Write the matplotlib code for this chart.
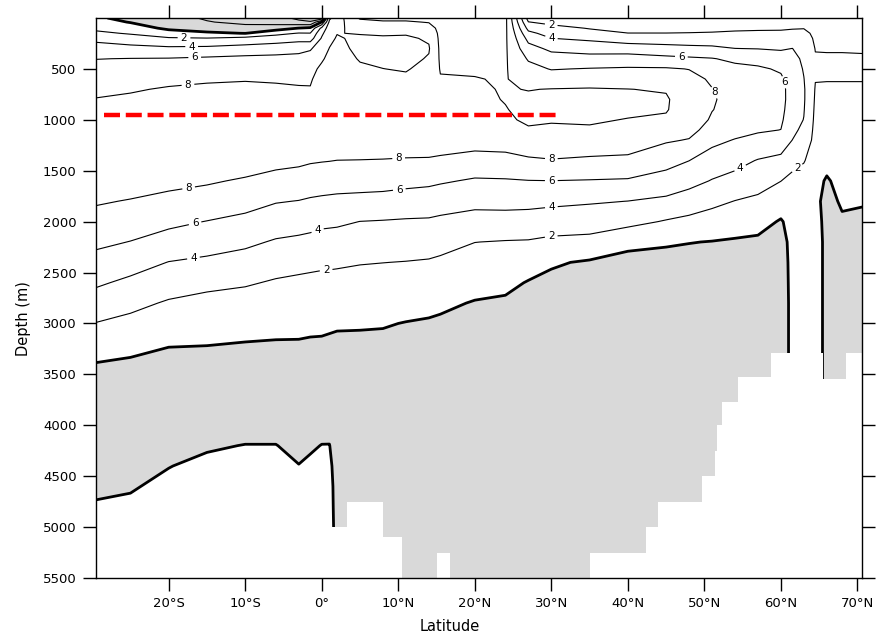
import numpy as np
import matplotlib
matplotlib.use("Agg")
import matplotlib.pyplot as plt

# depth levels (m) of the grid rows
depth = [0, 40, 100, 150, 200, 300, 400, 500, 600, 700,
         800, 900, 1000, 1100, 1200, 1400, 1600, 1800, 2000, 2200,
         2400, 2600, 2800, 3000, 3200, 3400, 3600, 3800, 4000, 4200,
         4400, 4600, 4800, 5000, 5500]

# latitude of each grid column
lat = [-30, -25, -20, -15, -10, -6, -3, -1.5, 0, 1, 2, 5, 8, 11, 14, 15.5,
       20, 24, 27, 30, 35, 40, 45, 48, 51, 54, 57, 60, 61.5, 63, 64.5, 66,
       68, 71]

psi_cols = [
    # -30
    [0.4, 0.9, 1.6, 2.5, 3.5, 4.9, 5.95, 6.6, 7.1, 7.55, 8.05, 8.4, 8.7, 8.95, 9.1,
     9.2, 8.9, 8.2, 7.4, 6.45, 5.4, 4.35, 3.2, 2.0, 1.0, -0.05, -0.7, -0.9, -1.0,
     -0.9, -0.7, -0.35, 0.15, 0.4, 0.4],
    # -25
    [-0.6, -0.1, 1.0, 1.8, 2.9, 4.6, 6.05, 6.8, 7.4, 7.85, 8.25, 8.6, 8.9, 9.1, 9.25,
     9.3, 8.8, 7.9, 7.0, 5.95, 4.8, 3.6, 2.5, 1.5, 0.6, -0.3, -0.8, -1.0, -1.0,
     -0.9, -0.6, -0.15, 0.3, 0.5, 0.4],
    # -20
    [-1.4, -1.1, -0.4, 0.9, 2.2, 4.4, 6.1, 7.0, 7.6, 8.15, 8.6, 8.9, 9.15, 9.3, 9.4,
     9.2, 8.5, 7.5, 6.4, 5.3, 3.95, 2.9, 1.8, 0.9, 0.1, -0.5, -0.9, -1.0, -1.0,
     -0.7, -0.05, 0.4, 0.6, 0.6, 0.5],
    # -15
    [-2.2, -1.9, -0.9, 0.3, 2.1, 4.5, 6.3, 7.2, 7.8, 8.3, 8.7, 9.0, 9.25, 9.4, 9.5,
     9.1, 8.2, 7.2, 5.95, 4.9, 3.6, 2.5, 1.4, 0.6, 0.05, -0.5, -0.9, -1.0, -0.8,
     -0.2, 0.4, 0.7, 0.8, 0.8, 0.6],
    # -10
    [-2.6, -2.4, -1.4, -0.05, 2.6, 4.8, 6.5, 7.4, 7.9, 8.35, 8.75, 9.05, 9.3, 9.45, 9.5,
     8.9, 7.8, 6.7, 5.5, 4.4, 3.2, 2.2, 1.2, 0.5, -0.05, -0.5, -0.9, -1.0, -0.7,
     0.05, 0.6, 0.8, 0.9, 0.9, 0.6],
    # -6
    [-3.2, -2.8, -0.9, 1.4, 3.05, 5.0, 6.6, 7.3, 7.8, 8.3, 8.7, 9.0, 9.25, 9.4, 9.4,
     8.6, 7.3, 6.1, 5.05, 3.8, 2.8, 1.8, 1.0, 0.4, -0.1, -0.5, -0.9, -1.0, -0.7,
     0.05, 0.6, 0.8, 0.9, 0.8, 0.6],
    # -3
    [-4.5, -3.5, 0.05, 2.1, 3.3, 5.4, 6.6, 7.3, 7.75, 8.15, 8.55, 8.9, 9.15, 9.3, 9.3,
     8.4, 7.1, 5.95, 4.8, 3.6, 2.6, 1.6, 0.9, 0.35, -0.1, -0.5, -0.9, -1.0, -0.9,
     -0.5, 0.05, 0.5, 0.7, 0.7, 0.5],
    # -1.5
    [-5.0, -3.8, 0.4, 2.05, 3.1, 5.8, 6.8, 7.4, 7.8, 8.1, 8.5, 8.85, 9.1, 9.25, 9.25,
     8.2, 6.9, 5.8, 4.6, 3.5, 2.5, 1.5, 0.85, 0.3, -0.15, -0.55, -0.9, -1.0, -0.8,
     -0.25, 0.35, 0.7, 0.8, 0.8, 0.5],
    # 0
    [-5.5, 0.05, 4.5, 5.6, 6.2, 7.05, 7.75, 8.4, 8.8, 9.05, 9.25, 9.4, 9.5, 9.45, 9.3,
     8.1, 6.8, 5.7, 4.4, 3.3, 2.4, 1.4, 0.8, 0.25, -0.15, -0.55, -0.9, -1.0, -0.7,
     0.05, 0.5, 0.7, 0.7, 0.7, 0.5],
    # 1
    [5.6, 6.4, 7.05, 7.3, 7.55, 8.05, 8.5, 8.9, 9.2, 9.35, 9.45, 9.5, 9.5, 9.45, 9.3,
     8.05, 6.75, 5.65, 4.35, 3.25, 2.35, 1.4, 0.75, 0.2, -0.2, -0.6, -0.9, -1.0, -0.6,
     0.05, 0.4, 0.6, 0.6, 0.6, 0.5],
    # 2
    [7.05, 7.4, 7.7, 7.95, 8.15, 8.55, 8.9, 9.2, 9.4, 9.5, 9.55, 9.55, 9.5, 9.4, 9.25,
     7.98, 6.7, 5.6, 4.3, 3.2, 2.3, 1.35, 0.7, 0.15, -0.25, -0.6, -0.9, -1.0, -1.0,
     -0.9, -0.8, -0.7, -0.6, -0.5, -0.5],
    # 5
    [10.3, 9.3, 8.6, 8.1, 7.7, 7.55, 7.85, 8.3, 8.8, 9.2, 9.45, 9.6, 9.65, 9.55, 9.3,
     7.95, 6.75, 5.45, 3.98, 3.0, 2.1, 1.3, 0.65, 0.15, -0.3, -0.6, -0.9, -1.0, -1.0,
     -0.9, -0.8, -0.7, -0.6, -0.5, -0.5],
    # 8
    [10.5, 9.8, 8.8, 8.2, 7.8, 7.45, 7.6, 8.02, 8.5, 9.0, 9.35, 9.6, 9.7, 9.6, 9.3,
     7.9, 6.7, 5.35, 3.9, 2.9, 2.02, 1.25, 0.6, 0.1, -0.3, -0.6, -0.9, -1.0, -1.0,
     -0.9, -0.8, -0.7, -0.6, -0.5, -0.5],
    # 11
    [10.5, 9.8, 8.8, 8.15, 7.75, 7.4, 7.5, 7.85, 8.35, 8.9, 9.3, 9.6, 9.75, 9.6, 9.3,
     7.8, 6.5, 5.2, 3.8, 2.85, 1.95, 1.2, 0.55, -0.05, -0.4, -0.7, -0.9, -1.0, -1.0,
     -0.9, -0.8, -0.7, -0.6, -0.5, -0.5],
    # 14
    [10.6, 10.1, 9.2, 8.6, 8.2, 7.85, 8.15, 8.6, 9.05, 9.35, 9.6, 9.8, 9.85, 9.7, 9.35,
     7.75, 6.35, 5.1, 3.75, 2.75, 1.85, 1.05, 0.4, -0.15, -0.5, -0.75, -0.9, -1.0, -1.0,
     -0.9, -0.8, -0.7, -0.6, -0.5, -0.5],
    # 15.5
    [10.8, 10.7, 10.6, 10.5, 10.45, 10.35, 10.25, 10.1, 9.9, 9.75, 9.7, 9.75, 9.8, 9.6, 9.2,
     7.6, 6.2, 4.9, 3.6, 2.6, 1.7, 0.95, 0.3, -0.25, -0.55, -0.8, -0.9, -1.0, -1.0,
     -0.9, -0.8, -0.7, -0.6, -0.5, -0.5],
    # 20
    [10.8, 10.7, 10.6, 10.55, 10.5, 10.4, 10.3, 10.15, 9.95, 9.8, 9.75, 9.8, 9.85, 9.55, 8.9,
     7.2, 5.8, 4.5, 3.3, 2.02, 1.25, 0.6, -0.1, -0.5, -0.7, -0.85, -0.9, -1.0, -1.0,
     -0.9, -0.8, -0.7, -0.6, -0.5, -0.5],
    # 24
    [10.5, 10.45, 10.4, 10.35, 10.3, 10.25, 10.2, 10.15, 10.1, 10.1, 10.05, 9.95, 9.85, 9.6, 9.0,
     7.3, 5.85, 4.55, 3.3, 1.9, 1.1, 0.4, -0.25, -0.6, -0.75, -0.85, -0.9, -1.0, -1.0,
     -0.9, -0.8, -0.7, -0.6, -0.5, -0.5],
    # 27
    [1.2, 2.05, 3.4, 4.5, 5.4, 6.7, 7.8, 8.6, 9.3, 9.95, 10.25, 10.3, 10.15, 9.9, 9.4,
     7.7, 5.95, 4.5, 3.25, 1.85, 0.75, -0.1, -0.55, -0.8, -0.9, -0.95, -1.0, -1.0, -1.0,
     -0.9, -0.8, -0.7, -0.6, -0.5, -0.5],
    # 30
    [0.8, 1.5, 2.6, 3.2, 4.02, 5.6, 6.8, 7.9, 9.0, 10.05, 10.3, 10.3, 10.1, 9.8, 9.3,
     7.9, 5.98, 4.4, 3.0, 1.6, 0.2, -0.4, -0.8, -1.0, -1.0, -1.0, -1.0, -1.0, -1.0,
     -0.9, -0.8, -0.7, -0.6, -0.5, -0.5],
    # 35
    [0.7, 1.3, 1.9, 2.6, 3.6, 5.3, 6.6, 8.1, 9.3, 10.1, 10.35, 10.35, 10.15, 9.85, 9.2,
     7.7, 5.9, 4.2, 2.8, 1.5, -0.2, -0.6, -0.85, -1.0, -1.0, -1.0, -1.0, -1.0, -1.0,
     -0.9, -0.8, -0.7, -0.6, -0.5, -0.5],
    # 40
    [0.6, 1.1, 1.6, 2.02, 3.0, 5.0, 6.9, 8.2, 9.3, 10.02, 10.3, 10.25, 9.95, 9.6, 9.0,
     7.6, 5.8, 3.98, 2.55, 0.5, -0.6, -0.75, -0.9, -1.0, -1.0, -1.0, -1.0, -1.0, -1.0,
     -0.9, -0.8, -0.7, -0.6, -0.5, -0.5],
    # 45
    [0.6, 1.1, 1.6, 2.02, 2.9, 4.7, 6.5, 8.2, 9.2, 9.9, 10.15, 10.1, 9.8, 9.2, 8.2,
     6.7, 5.2, 3.6, 1.85, 0.2, -0.6, -0.8, -0.9, -1.0, -1.0, -1.0, -1.0, -1.0, -1.0,
     -0.9, -0.8, -0.7, -0.6, -0.5, -0.5],
    # 48
    [0.6, 1.1, 1.6, 2.05, 2.9, 4.5, 6.3, 7.95, 8.6, 9.0, 9.2, 9.2, 9.0, 8.55, 7.9,
     6.02, 4.6, 3.1, 1.5, 0.05, -0.6, -0.8, -0.9, -1.0, -1.0, -1.0, -1.0, -1.0, -1.0,
     -0.9, -0.8, -0.7, -0.6, -0.5, -0.5],
    # 51
    [0.6, 1.1, 1.65, 2.1, 2.85, 4.4, 6.1, 7.2, 7.75, 8.05, 8.15, 8.05, 7.8, 7.3, 6.5,
     5.1, 3.9, 2.5, 1.1, -0.05, -0.6, -0.8, -0.9, -1.0, -1.0, -1.0, -1.0, -1.0, -1.0,
     -0.9, -0.8, -0.7, -0.6, -0.5, -0.5],
    # 54
    [0.6, 1.1, 1.75, 2.2, 2.8, 4.02, 5.6, 6.5, 7.05, 7.35, 7.45, 7.4, 7.2, 6.65, 5.9,
     4.6, 3.4, 1.95, 0.9, -0.2, -0.65, -0.85, -0.95, -1.0, -1.0, -1.0, -1.0, -1.0, -1.0,
     -1.0, -1.0, -1.0, -1.0, -1.0, -1.0],
    # 57
    [0.6, 1.15, 1.8, 2.25, 2.75, 3.95, 5.4, 6.25, 6.75, 7.0, 7.05, 7.0, 6.7, 6.2, 5.5,
     3.9, 2.8, 1.6, 0.6, -0.3, -0.7, -0.85, -0.95, -1.0, -1.0, -1.0, -1.0, -1.0, -1.0,
     -1.0, -1.0, -1.0, -1.0, -1.0, -1.0],
    # 60
    [0.6, 1.2, 1.8, 2.3, 2.8, 3.8, 4.9, 5.8, 6.25, 6.45, 6.5, 6.45, 6.3, 5.98, 4.9,
     3.6, 2.02, 0.9, -0.15, -0.6, -0.8, -0.9, -1.0, -1.0, -1.0, -1.0, -1.0, -1.0, -1.0,
     -1.0, -1.0, -1.0, -1.0, -1.0, -1.0],
    # 61.5
    [0.6, 1.2, 1.9, 2.4, 2.9, 4.02, 4.7, 5.1, 5.3, 5.35, 5.3, 5.1, 4.8, 4.4, 3.98,
     2.6, 1.5, 0.9, 0.6, 0.5, 0.5, 0.5, 0.5, 0.5, 0.5, 0.5, 0.5, 0.5, 0.5,
     0.5, 0.5, 0.5, 0.5, 0.5, 0.5],
    # 63
    [0.7, 1.3, 1.95, 2.4, 2.8, 3.3, 3.6, 3.85, 4.05, 4.2, 4.2, 4.1, 3.95, 3.6, 3.2,
     2.1, 1.3, 0.8, 0.6, 0.5, 0.5, 0.5, 0.5, 0.5, 0.5, 0.5, 0.5, 0.5, 0.5,
     0.5, 0.5, 0.5, 0.5, 0.5, 0.5],
    # 64.5
    [0.8, 1.2, 1.5, 1.65, 1.75, 1.95, 2.1, 2.15, 2.05, 1.9, 1.8, 1.7, 1.6, 1.5, 1.4,
     1.2, 0.6, 0.4, 0.5, 0.5, 0.5, 0.5, 0.5, 0.5, 0.5, 0.5, 0.5, 0.5, 0.5,
     0.5, 0.5, 0.5, 0.5, 0.5, 0.5],
    # 66
    [0.7, 1.0, 1.3, 1.5, 1.65, 1.9, 2.15, 2.2, 2.05, 1.85, 1.7, 1.6, 1.5, 1.35, 1.2,
     0.6, -0.2, -0.5, -0.4, -0.3, -0.3, -0.3, -0.3, -0.3, -0.3, -0.3, -0.3, -0.3, -0.3,
     -0.3, -0.3, -0.3, -0.3, -0.3, -0.3],
    # 68
    [0.6, 0.9, 1.25, 1.45, 1.6, 1.9, 2.15, 2.2, 2.05, 1.85, 1.7, 1.6, 1.5, 1.4, 1.3,
     1.0, 0.6, 0.2, -0.2, -0.5, -0.7, -0.8, -0.9, -1.0, -1.0, -1.0, -1.0, -1.0, -1.0,
     -1.0, -1.0, -1.0, -1.0, -1.0, -1.0],
    # 71
    [0.6, 0.9, 1.2, 1.4, 1.55, 1.85, 2.15, 2.2, 2.05, 1.85, 1.7, 1.6, 1.5, 1.4, 1.3,
     1.0, 0.6, 0.1, -0.3, -0.6, -0.8, -0.9, -1.0, -1.0, -1.0, -1.0, -1.0, -1.0, -1.0,
     -1.0, -1.0, -1.0, -1.0, -1.0, -1.0],
]

# sea floor (model bathymetry steps): latitude where a step starts, depth of its top
land_lat = [-30, -28.6, -5.2, -2.7, 3.3, 8.0, 10.5, 15.0, 16.8, 35.0, 42.4, 44.0,
            49.7, 51.4, 51.7, 52.3, 54.4, 58.7, 65.5, 68.5, 71]
land_top = [4750, 5500, 5240, 5000, 4750, 5100, 5500, 5250, 5500, 5250, 5000, 4750,
            4500, 4250, 4000, 3770, 3530, 3290, 3550, 3290, 3290]

# red dashed marker at 950 m
red_lat = [-28.5, 30.7]
red_depth = [950, 950]

labeled_levels = [2, 4, 6, 8]
other_levels = [-6, -4, -2, 10]
label_spots = [(-17.5, 640), (-17.5, 1620), (10, 1310), (30, 1395), (51.6, 725),
               (-16.6, 390), (-16.6, 2000), (10, 1600), (30, 1610), (47, 372), (60.7, 627),
               (-17, 275), (-16.8, 2340), (-0.7, 2050), (30, 1850), (30, 200), (55, 1520),
               (-18, 200), (0.6, 2500), (30, 2150), (62, 1460), (30, 60)]

xticks = [-20, -10, 0, 10, 20, 30, 40, 50, 60, 70]
xlabels = ['20°S', '10°S', '0°', '10°N', '20°N', '30°N', '40°N', '50°N', '60°N', '70°N']
yticks = [500, 1000, 1500, 2000, 2500, 3000, 3500, 4000, 4500, 5000, 5500]

for col in psi_cols:
    assert len(col) == len(depth)
psi = np.array(psi_cols).T

fig = plt.figure(figsize=(8.82, 6.36), dpi=100)
ax = fig.add_axes([96 / 882, 1 - 578 / 636, 766 / 882, 560 / 636])

ax.contourf(lat, depth, psi, levels=[-50, 0], colors=['#d9d9d9'], zorder=1)
ax.contour(lat, depth, psi, levels=other_levels, colors='k', linewidths=0.8,
           linestyles='solid', zorder=2)
cs = ax.contour(lat, depth, psi, levels=labeled_levels, colors='k', linewidths=0.8,
                linestyles='solid', zorder=2)
ax.contour(lat, depth, psi, levels=[0], colors='k', linewidths=2.0, zorder=2)
labels = ax.clabel(cs, fmt='%d', fontsize=7.5, inline=True, inline_spacing=3,
                   manual=label_spots)
for t in labels:
    t.set_rotation(0)

ax.fill_between(land_lat, land_top, 5500, step='post', color='white',
                linewidth=0, zorder=3)
ax.plot(red_lat, red_depth, color='red', lw=3.2, dashes=(3.6, 1.3),
        solid_capstyle='butt', zorder=4)

ax.set_xlim(-29.5, 70.6)
ax.set_ylim(5500, 0)
ax.set_xticks(xticks)
ax.set_xticklabels(xlabels)
ax.set_yticks(yticks)
ax.tick_params(direction='out', length=9.5, width=1, top=True, right=True,
               labelsize=9.5, pad=4.5)
for s in ax.spines.values():
    s.set_zorder(5)
    s.set_linewidth(1.0)

ax.set_xlabel('Latitude', fontsize=10.5)
ax.set_ylabel('Depth (m)', fontsize=10.5)
ax.xaxis.set_label_coords(0.462, -0.074)
ax.yaxis.set_label_coords(-0.085, 0.464)

fig.savefig('out.png', dpi=100)
